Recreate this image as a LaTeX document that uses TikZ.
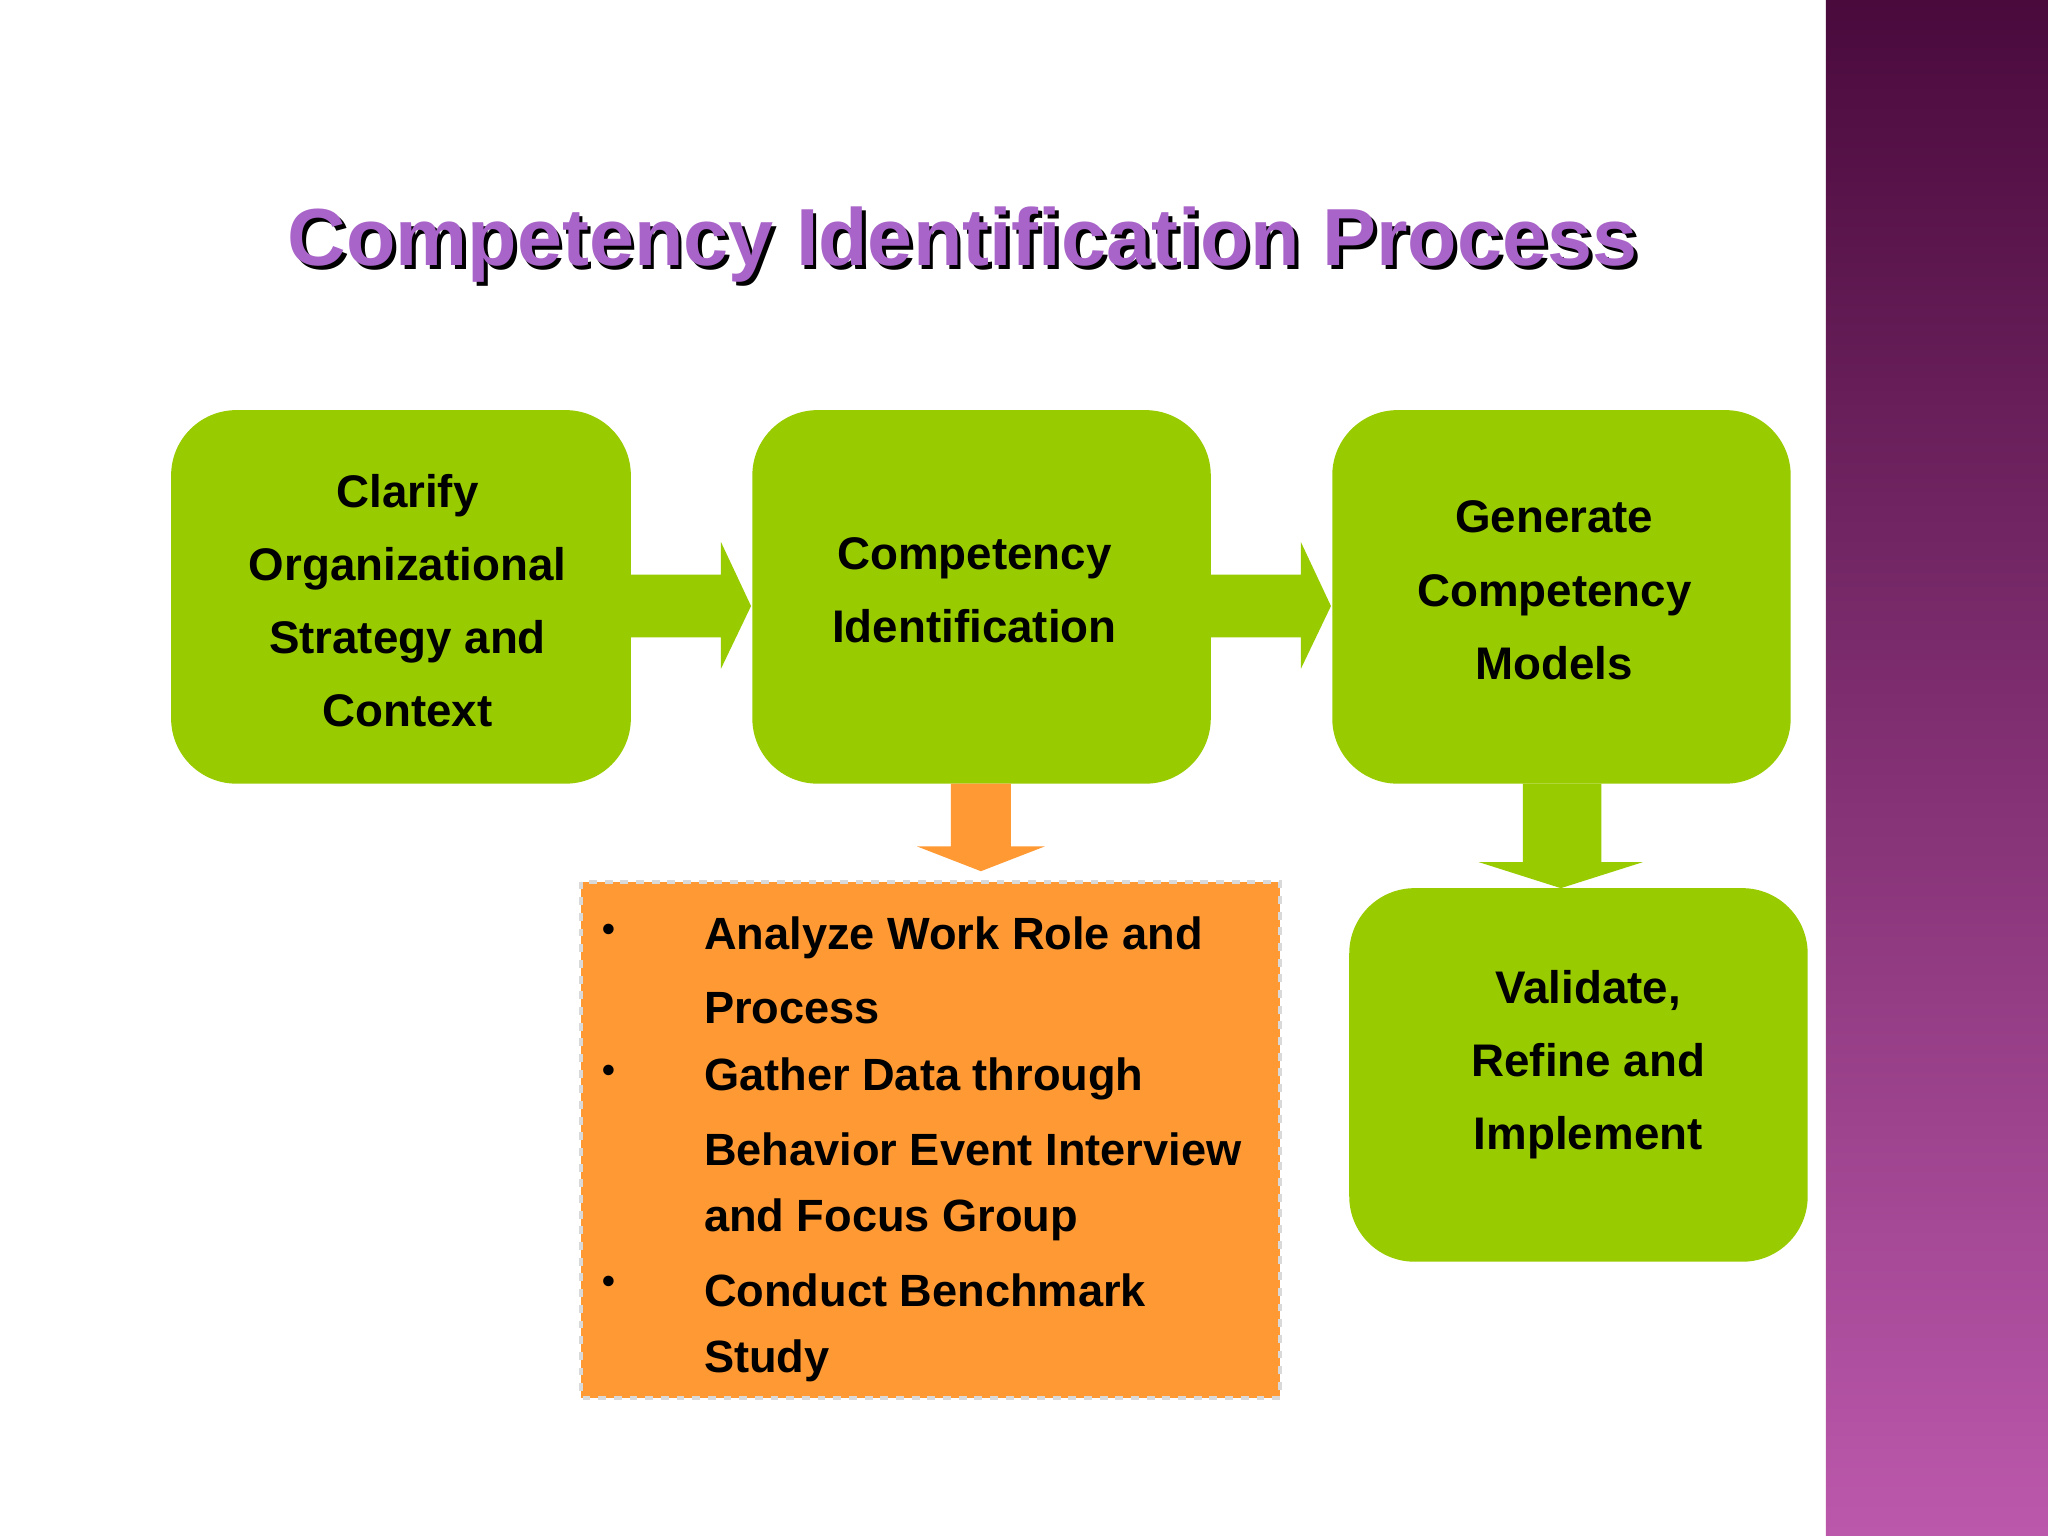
\documentclass[tikz,border=0pt]{standalone}
\usepackage{fontspec}
\setmainfont{Liberation Sans}
\begin{document}
\begin{tikzpicture}[x=0.5pt,y=-0.5pt,
  gbox/.style={fill=green1,rounded corners=25pt,draw=none},
  btxt/.style={font=\bfseries\fontsize{17.5}{28}\selectfont,align=center,text=black},
  ltxt/.style={font=\bfseries\fontsize{17.3}{27}\selectfont,anchor=west,text=black}]
\definecolor{green1}{HTML}{99CC00}
\definecolor{orange1}{HTML}{FF9933}
\definecolor{ptitle}{HTML}{A864C8}
\definecolor{pdark}{HTML}{4A0A3C}
\definecolor{plight}{HTML}{BC58AC}
\useasboundingbox (0,0) rectangle (1568,1176);
\fill[white] (0,0) rectangle (1568,1176);
\shade[top color=pdark,bottom color=plight] (1398,0) rectangle (1568,1176);
% title
\node[font=\bfseries\fontsize{31}{36}\selectfont,text=black] at (740,190) {Competency Identification Process};
\node[font=\bfseries\fontsize{31}{36}\selectfont,text=ptitle] (title) at (737,187) {Competency Identification Process};
% boxes
\fill[gbox] (131,314) rectangle (483,600);
\fill[gbox] (576,314) rectangle (927,600);
\fill[gbox] (1020,314) rectangle (1371,600);
\fill[gbox] (1033,680) rectangle (1384,966);
\node[btxt] (b1) at (312,460) {Clarify\\Organizational\\Strategy and\\Context};
\node[btxt] (b2) at (746,452) {Competency\\Identification};
\node[btxt] (b3) at (1190,452) {Generate\\Competency\\Models};
\node[btxt] (b4) at (1216,815) {Validate,\\Refine and\\Implement};
% arrows
\fill[green1] (483,440) -- (552,440) -- (552,415) -- (575,464) -- (552,512) -- (552,488) -- (483,488) -- cycle;
\fill[green1] (927,440) -- (996,440) -- (996,415) -- (1019,464) -- (996,512) -- (996,488) -- (927,488) -- cycle;
\fill[orange1] (728,600) -- (774,600) -- (774,648) -- (800,648) -- (751,667) -- (702,648) -- (728,648) -- cycle;
\fill[green1] (1166,600) -- (1226,600) -- (1226,660) -- (1258,660) -- (1195,680) -- (1132,660) -- (1166,660) -- cycle;
% orange box
\fill[orange1] (445,675) rectangle (980,1070);
\draw[gray!30,dashed,line width=1.5pt] (445,675) rectangle (980,1070);
\foreach \y in {718,826,988} {\node[font=\bfseries\fontsize{14}{16}\selectfont] at (466,\y-4) {•};}
\node[ltxt] (l1) at (532,718) {Analyze Work Role and};
\node[ltxt] (l2) at (532,772) {Process};
\node[ltxt] (l3) at (532,826) {Gather Data through};
\node[ltxt] (l4) at (532,880) {Behavior Event Interview};
\node[ltxt] (l5) at (532,934) {and Focus Group};
\node[ltxt] (l6) at (532,988) {Conduct Benchmark};
\node[ltxt] (l7) at (532,1042) {Study};
\end{tikzpicture}
\end{document}
